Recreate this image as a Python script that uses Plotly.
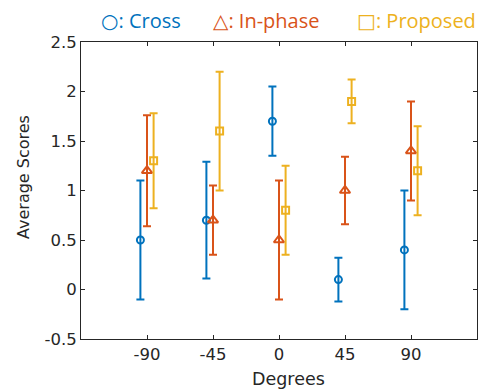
import plotly.graph_objects as go

# Angles (degrees) and per-method mean scores with symmetric error half-widths
degrees = [-90, -45, 0, 45, 90]
tick_labels = ["-90", "-45", "0", "45", "90"]

cross_mean = [0.5, 0.7, 1.7, 0.1, 0.4]
cross_err = [0.6, 0.59, 0.35, 0.22, 0.6]

inphase_mean = [1.2, 0.7, 0.5, 1.0, 1.4]
inphase_err = [0.56, 0.35, 0.6, 0.34, 0.5]

proposed_mean = [1.3, 1.6, 0.8, 1.9, 1.2]
proposed_err = [0.48, 0.6, 0.45, 0.22, 0.45]

series = [
    ("Cross", cross_mean, cross_err, "#0072BD", "circle-open", -4.5, 7),
    ("In-phase", inphase_mean, inphase_err, "#D95319", "triangle-up-open", 0.0, 9),
    ("Proposed", proposed_mean, proposed_err, "#EDB120", "square-open", 4.5, 7),
]

fig = go.Figure()
for name, mean, err, color, symbol, shift, msize in series:
    fig.add_trace(go.Scatter(
        x=[d + shift for d in degrees],
        y=mean,
        mode="markers",
        name=name,
        marker=dict(symbol=symbol, size=msize, color=color,
                    line=dict(color=color, width=2)),
        error_y=dict(type="data", array=err, visible=True,
                     color=color, thickness=2, width=4),
        showlegend=False,
    ))

axis_color = "#262626"
axis_family = "DejaVu Sans, Liberation Sans, sans-serif"
tick_font = dict(family=axis_family, size=16.5, color=axis_color)

fig.update_layout(
    width=479, height=390,
    margin=dict(l=81, r=2, t=42, b=51),
    paper_bgcolor="white", plot_bgcolor="white",
    xaxis=dict(
        range=[-135, 135], tickvals=degrees, ticktext=tick_labels,
        showline=True, linecolor=axis_color, linewidth=1, mirror="ticks",
        ticks="inside", ticklen=4, tickcolor=axis_color, tickwidth=1,
        showgrid=False, zeroline=False, tickfont=tick_font,
    ),
    yaxis=dict(
        range=[-0.5, 2.5], tickvals=[-0.5, 0, 0.5, 1, 1.5, 2, 2.5],
        ticktext=["-0.5", "0", "0.5", "1", "1.5", "2", "2.5"],
        showline=True, linecolor=axis_color, linewidth=1, mirror="ticks",
        ticks="inside", ticklen=4, tickcolor=axis_color, tickwidth=1,
        showgrid=False, zeroline=False, tickfont=tick_font,
    ),
)

# Axis titles
fig.add_annotation(text="Degrees", xref="paper", yref="paper",
                   x=(288 - 81) / 396, y=-(390 - 339) / 297,
                   xanchor="center", yanchor="bottom", showarrow=False,
                   borderpad=0,
                   font=dict(family=axis_family, size=17.5, color=axis_color))
fig.add_annotation(text="Average Scores", xref="paper", yref="paper",
                   x=-(81 - 23) / 396, y=(339 - 177) / 297, textangle=-90,
                   xanchor="center", yanchor="middle", showarrow=False,
                   font=dict(family=axis_family, size=16, color=axis_color))

# Key along the top
key = [("○: Cross", "#0072BD", 141), ("△: In-phase", "#D95319", 266), ("□: Proposed", "#EDB120", 416)]
for text, color, cx in key:
    fig.add_annotation(text=text, xref="paper", yref="paper",
                       x=(cx - 81) / 396, y=(339 - 21) / 297,
                       xanchor="center", yanchor="middle", showarrow=False,
                       font=dict(family="Open Sans, DejaVu Sans, sans-serif", size=20, color=color))

fig.write_html("out.html")
